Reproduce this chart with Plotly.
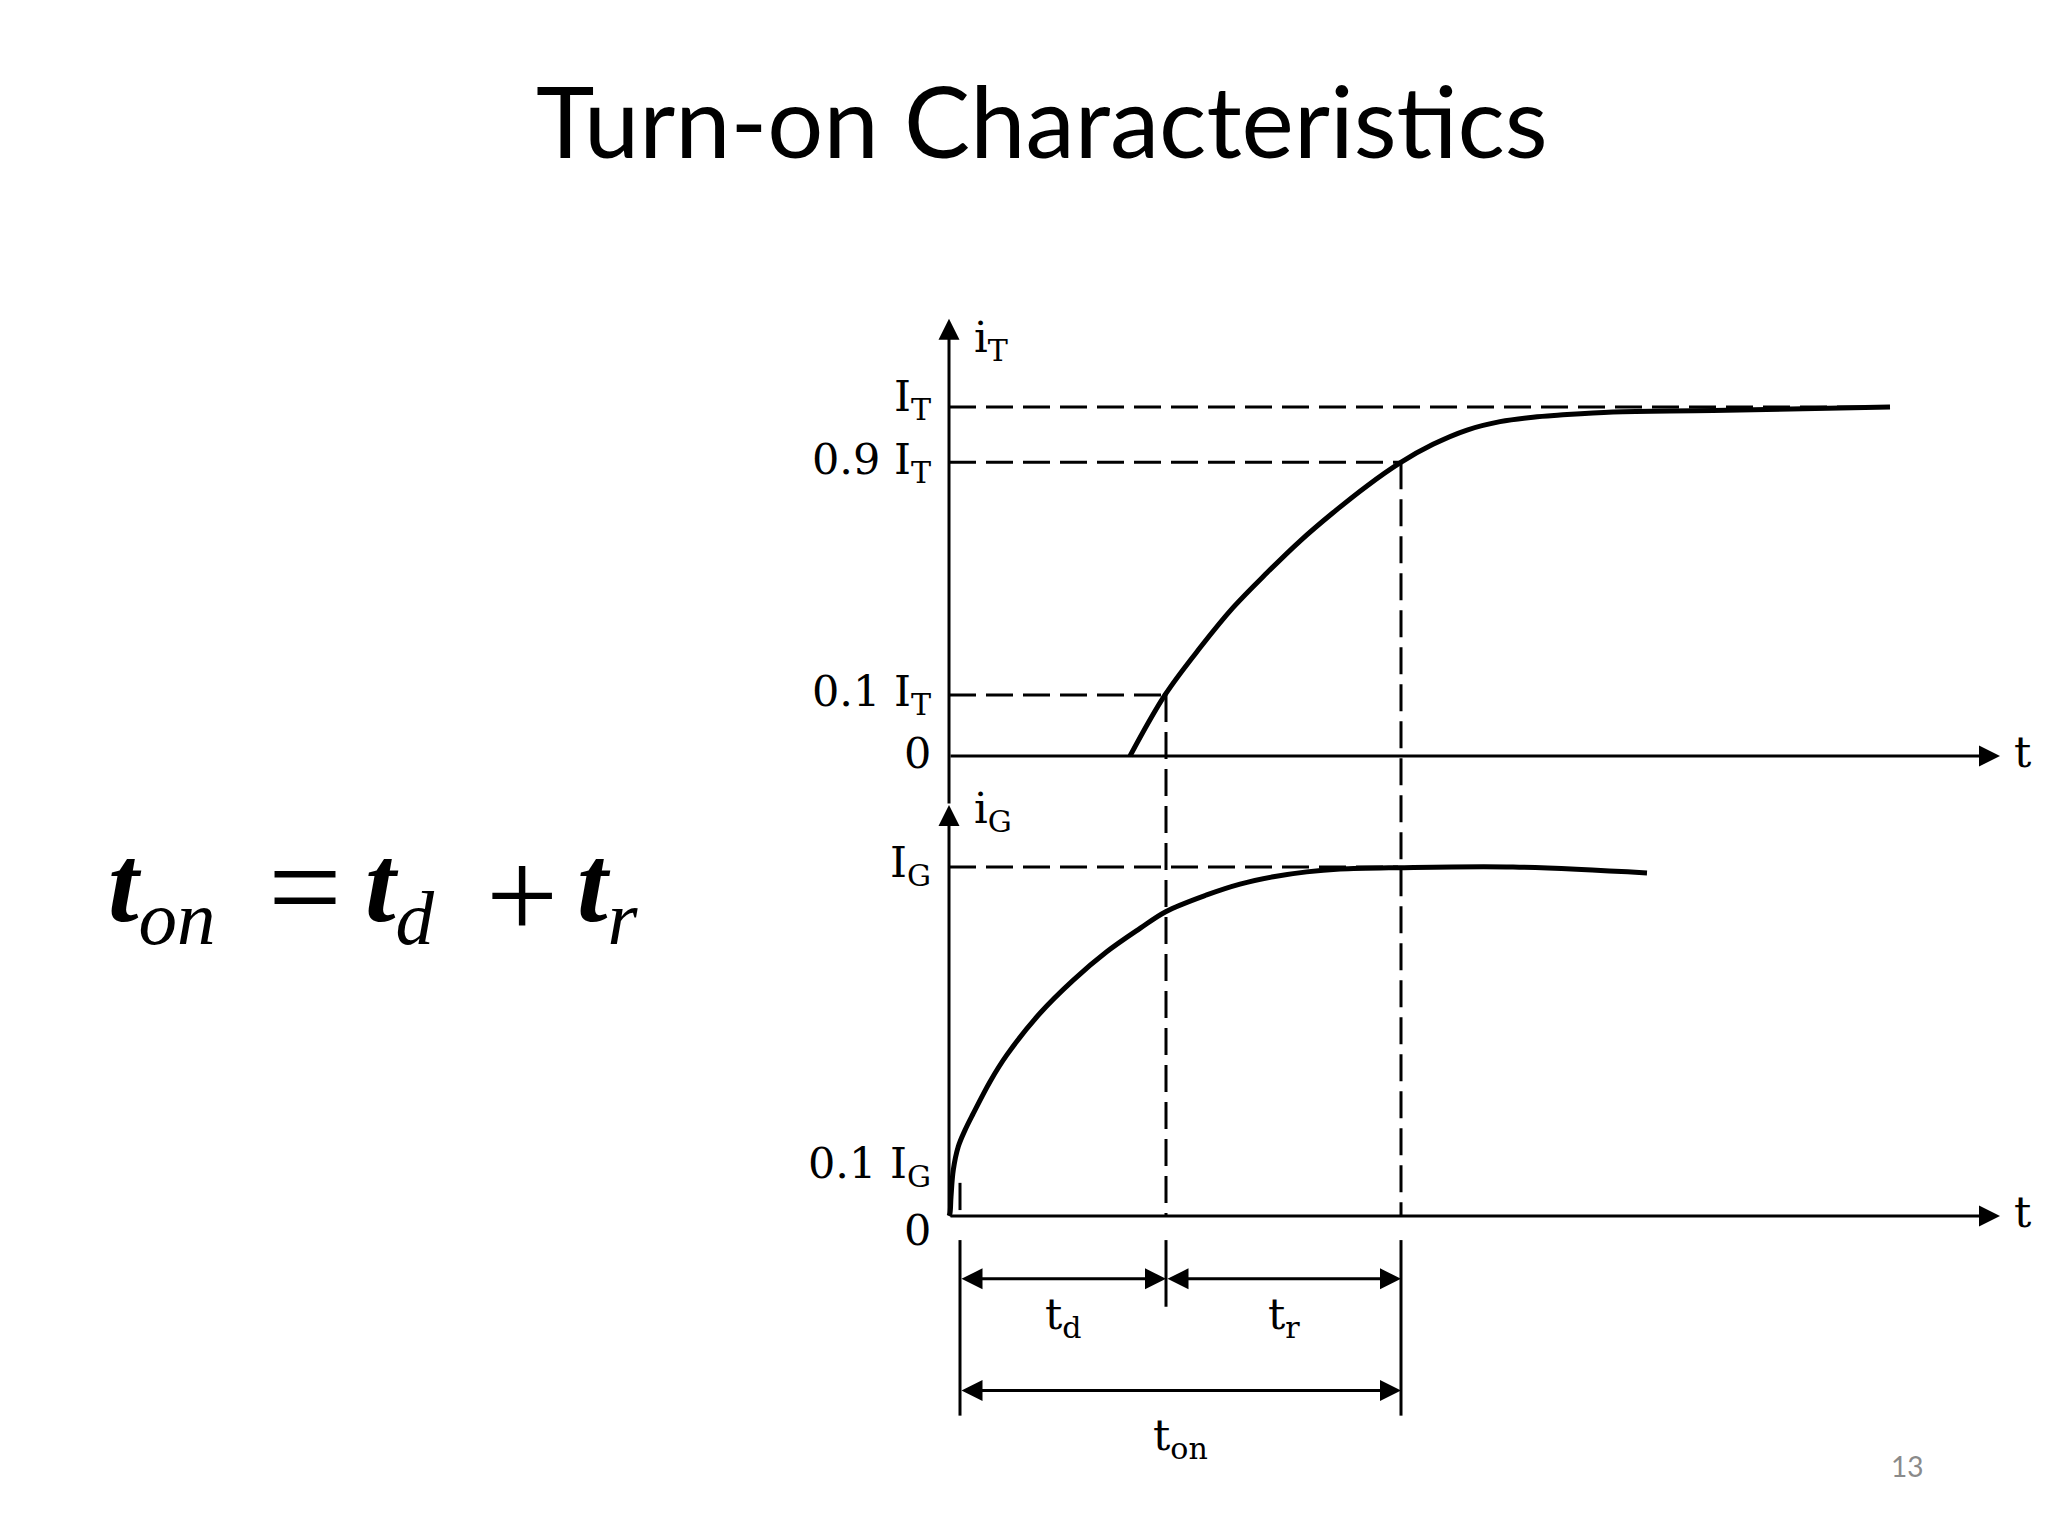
import plotly.graph_objects as go

# ---------------- data ----------------
# anode current i_T (in units of I_T) versus time (arbitrary units)
iT_t = [1.81, 2.16, 2.51, 2.84, 3.18, 3.51, 3.84, 4.18, 4.51, 4.84, 5.18, 5.51, 5.84, 6.11, 6.64, 7.64, 9.41]
iT_v = [0.0, 0.175, 0.310, 0.425, 0.525, 0.616, 0.697, 0.774, 0.840, 0.893, 0.934, 0.958, 0.971, 0.977, 0.986, 0.990, 1.0]

# gate current i_G (in units of I_G) versus time
iG_t = [0.0, 0.01, 0.02, 0.043, 0.093, 0.16, 0.243, 0.41, 0.577, 0.91, 1.243, 1.577, 1.91, 2.167,
        2.577, 2.91, 3.243, 3.577, 3.91, 4.49, 5.64, 6.98]
iG_v = [0.0, 0.008, 0.055, 0.132, 0.199, 0.246, 0.294, 0.385, 0.461, 0.581, 0.676, 0.757, 0.824, 0.872,
        0.92, 0.951, 0.972, 0.986, 0.994, 0.998, 1.0, 0.983]

upper_level_labels = ["0", "0.1 I<sub>T</sub>", "0.9 I<sub>T</sub>", "I<sub>T</sub>"]
upper_level_values = [0.0, 0.175, 0.842, 1.0]
lower_level_labels = ["0", "0.1 I<sub>G</sub>", "I<sub>G</sub>"]
lower_level_values = [0.0, 0.155, 1.0]

# event times: i_G reaches 0.1 I_G, i_T reaches 0.1 I_T, i_T reaches 0.9 I_T
event_times = [0.11, 2.17, 4.52]
interval_labels = ["t<sub>d</sub>", "t<sub>r</sub>", "t<sub>on</sub>"]

# ---------------- layout / style constants ----------------
W, H = 2048, 1536
OFF = 8                      # page body margin of the browser
X_RANGE = [-9.41, 11.07]
Y_RANGE = [-2.2578, 2.1433]
LOWER_BASE = -1.318          # vertical offset of the i_G panel
T_END = 10.51                # end of time axes (arrow tip)
UP_TIP = 1.253               # i_T axis arrow tip
LOW_TIP = 1.178              # i_G axis arrow tip (lower-panel units)
GATE_MARK = [0.095, 0.017]   # short tick marking 0.1 I_G
DIM_TOP, DIM_BOT, DIM_MID = -0.069, -0.572, -0.26
ROW1, ROW2 = -0.18, -0.50
LAB1, LAB2 = -0.289, -0.636
UPPER_SHIFTS = [3, 1, 0, 8]
LOWER_SHIFTS = [-14, -4, 2]

SERIF = "DejaVu Serif"
FS = 43
LW = 3

fig = go.Figure()


def px(x):
    return (x - OFF) / W


def py(y):
    return 1 - (y - OFF) / H


def line(xs, ys, width=LW, dash=None, shape="linear"):
    fig.add_trace(go.Scatter(x=xs, y=ys, mode="lines",
                             line=dict(color="black", width=width, dash=dash, shape=shape),
                             hoverinfo="skip", showlegend=False))


def arrow(x0, y0, x1, y1, both=False):
    fig.add_annotation(x=x1, y=y1, ax=x0, ay=y0, xref="x", yref="y", axref="x", ayref="y",
                       text="", showarrow=True, arrowhead=2, arrowsize=1.4, arrowwidth=LW,
                       arrowcolor="black", standoff=0, startstandoff=0,
                       startarrowhead=2, startarrowsize=1.4,
                       arrowside="end+start" if both else "end")


def text(x, y, s, size=FS, xanchor="center", yanchor="middle", yshift=0, xref="x", yref="y",
         family=SERIF, color="black"):
    fig.add_annotation(x=x, y=y, xref=xref, yref=yref, text=s, showarrow=False,
                       xanchor=xanchor, yanchor=yanchor, yshift=yshift,
                       font=dict(family=family, size=size, color=color))


t_g10, t_T10, t_T90 = event_times
lowy = [v + LOWER_BASE for v in iG_v]

# dashed guide lines
dash = "27px,10px"
line([0, iT_t[-1]], [upper_level_values[3]] * 2, dash=dash)
line([0, t_T90], [upper_level_values[2]] * 2, dash=dash)
line([0, t_T10], [upper_level_values[1]] * 2, dash=dash)
line([0, iG_t[19]], [lower_level_values[2] + LOWER_BASE] * 2, dash=dash)
line([t_T10, t_T10], [upper_level_values[1], LOWER_BASE], dash=dash)
line([t_T90, t_T90], [upper_level_values[2], LOWER_BASE], dash=dash)
line([t_g10, t_g10], [GATE_MARK[0] + LOWER_BASE, GATE_MARK[1] + LOWER_BASE])

# curves
line(iT_t, iT_v, width=5, shape="spline")
line(iG_t, lowy, width=5, shape="spline")

# axes
arrow(0, 0, T_END, 0)
arrow(0, LOWER_BASE, T_END, LOWER_BASE)
arrow(0, LOWER_BASE + LOW_TIP, 0, UP_TIP)
arrow(0, LOWER_BASE, 0, LOWER_BASE + LOW_TIP)

# dimension lines
line([t_g10, t_g10], [LOWER_BASE + DIM_TOP, LOWER_BASE + DIM_BOT])
line([t_T10, t_T10], [LOWER_BASE + DIM_TOP, LOWER_BASE + DIM_MID])
line([t_T90, t_T90], [LOWER_BASE + DIM_TOP, LOWER_BASE + DIM_BOT])
arrow(t_g10, LOWER_BASE + ROW1, t_T10, LOWER_BASE + ROW1, both=True)
arrow(t_T10, LOWER_BASE + ROW1, t_T90, LOWER_BASE + ROW1, both=True)
arrow(t_g10, LOWER_BASE + ROW2, t_T90, LOWER_BASE + ROW2, both=True)
text((t_g10 + t_T10) / 2, LOWER_BASE + LAB1, interval_labels[0])
text((t_T10 + t_T90) / 2, LOWER_BASE + LAB1, interval_labels[1])
text((t_g10 + t_T90) / 2, LOWER_BASE + LAB2, interval_labels[2])

# level labels
LX = -0.16
for lab, v, s in zip(upper_level_labels, upper_level_values, UPPER_SHIFTS):
    text(LX, v, lab, xanchor="right", yshift=s)
for lab, v, s in zip(lower_level_labels, lower_level_values, LOWER_SHIFTS):
    text(LX, v + LOWER_BASE, lab, xanchor="right", yshift=s)

# axis names
text(0.23, 1.192, "i<sub>T</sub>", xanchor="left")
text(0.23, LOWER_BASE + 1.161, "i<sub>G</sub>", xanchor="left")
text(10.63, 0.011, "t", xanchor="left")
text(10.63, LOWER_BASE + 0.011, "t", xanchor="left")

# title
text(px(1042), py(119), "Turn-on Characteristics", size=99, xref="paper", yref="paper", family="Lato")

# formula  t_on = t_d + t_r
MATH = "Liberation Serif"
for s, x0 in [("<b><i>t</i></b><sub><i>on</i></sub>", 106),
              ("<b><i>t</i></b><sub><i>d</i></sub>", 363),
              ("<b><i>t</i></b><sub><i>r</i></sub>", 575)]:
    text(px(x0), py(892), s, size=110, xanchor="left", xref="paper", yref="paper", family=MATH)
text(px(305), py(886), "=", size=131, xref="paper", yref="paper", family=MATH)
text(px(522), py(895), "+", size=128, xref="paper", yref="paper", family=MATH)

# page number
text(px(1907), py(1466), "13", size=28, xref="paper", yref="paper", family="Lato", color="#8a8a8a")

fig.update_layout(width=W, height=H, margin=dict(l=0, r=0, t=0, b=0),
                  paper_bgcolor="white", plot_bgcolor="white",
                  xaxis=dict(range=X_RANGE, visible=False, fixedrange=True),
                  yaxis=dict(range=Y_RANGE, visible=False, fixedrange=True),
                  showlegend=False)

fig.write_html("out.html")
